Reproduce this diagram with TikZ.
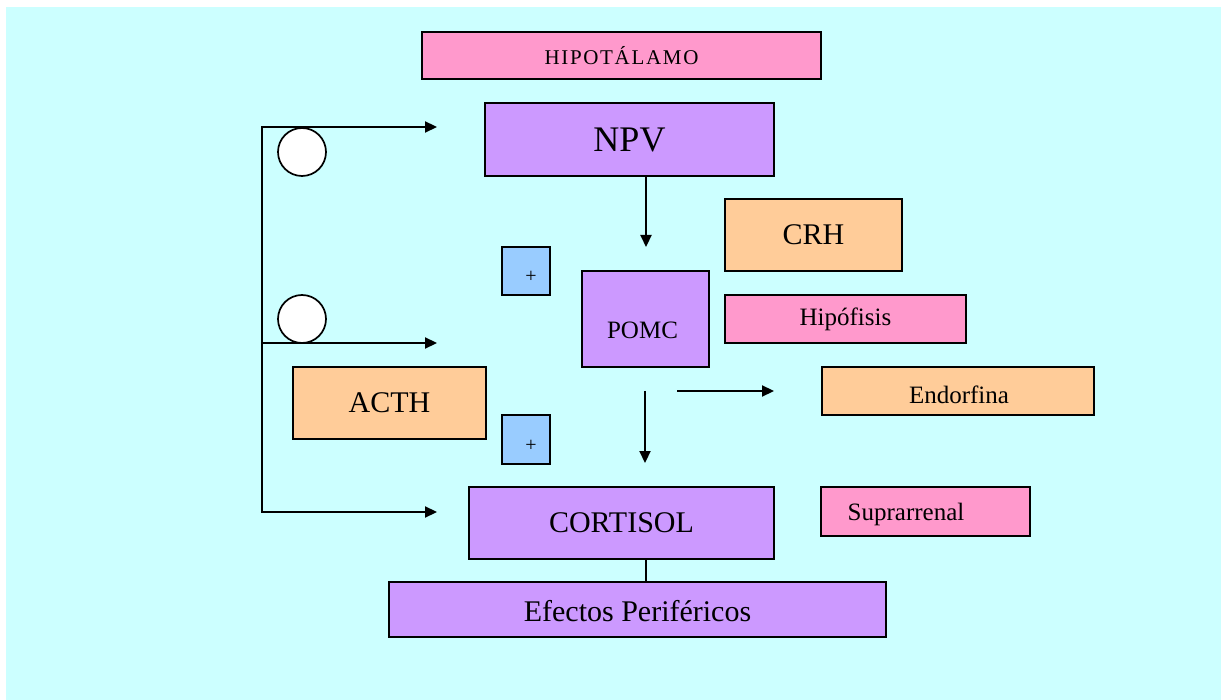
\documentclass[tikz,border=0pt]{standalone}
\usepackage{fontspec}
\setmainfont{Liberation Serif}
\usetikzlibrary{arrows.meta}
\definecolor{bgc}{HTML}{CCFFFF}
\definecolor{pinkc}{HTML}{FF99CC}
\definecolor{purp}{HTML}{CC99FF}
\definecolor{orng}{HTML}{FFCC99}
\definecolor{bluec}{HTML}{99CCFF}
\newcommand{\fsz}[1]{\fontsize{#1}{#1}\selectfont}
\begin{document}
\begin{tikzpicture}[x=1pt,y=-1pt,
  box/.style={draw=black, line width=1.8pt, inner sep=0pt, rectangle},
  conn/.style={line width=2.2pt, line cap=rect},
  arr/.style={line width=2.2pt, -{Triangle[length=12pt,width=11pt]}},
  circ/.style={circle, draw=black, line width=1.7pt, fill=white, minimum size=48pt, inner sep=0pt},
  lbl/.style={inner sep=0pt}]
\useasboundingbox (0,0) rectangle (1221,700);
\fill[bgc] (6,7) rectangle (1221,700);

% boxes
\node[box, fill=pinkc, minimum width=399pt, minimum height=47pt,
      font={\fsz{21}\addfontfeature{LetterSpace=8}}] (hipo) at (621.5,55.5) {HIPOTÁLAMO};
\node[box, fill=purp, minimum width=289pt, minimum height=73pt, font=\fsz{36}] (npv) at (629.5,139.5) {NPV};
\node[box, fill=orng, minimum width=177pt, minimum height=72pt, font=\fsz{30}] (crh) at (813.5,235) {CRH};
\node[box, fill=purp, minimum width=127pt, minimum height=96pt,
      label={[lbl, font=\fsz{25}, xshift=-3pt, yshift=-11pt]center:POMC}] (pomc) at (645.5,319) {};
\node[box, fill=pinkc, minimum width=241pt, minimum height=48pt, font=\fsz{25}] (hipof) at (845.5,319) {Hipófisis};
\node[box, fill=orng, minimum width=272pt, minimum height=48pt,
      label={[lbl, font=\fsz{25}, xshift=1pt, yshift=-4pt]center:Endorfina}] (endorf) at (958,391) {};
\node[box, fill=orng, minimum width=193pt, minimum height=72pt, font=\fsz{30}] (acth) at (389.5,403) {ACTH};
\node[box, fill=bluec, minimum width=48pt, minimum height=48pt,
      label={[lbl, font=\fsz{20}, xshift=5pt, yshift=-6pt]center:+}] (plusa) at (526,271) {};
\node[box, fill=bluec, minimum width=48pt, minimum height=49pt,
      label={[lbl, font=\fsz{20}, xshift=5pt, yshift=-6pt]center:+}] (plusb) at (526,439.5) {};
\node[box, fill=purp, minimum width=305pt, minimum height=72pt, font=\fsz{30}] (cort) at (621.5,523) {CORTISOL};
\node[box, fill=purp, minimum width=497pt, minimum height=55pt,
      label={[lbl, font=\fsz{30}, yshift=-2pt]center:Efectos Periféricos}] (efect) at (637.5,609.5) {};
\node[box, fill=pinkc, minimum width=209pt, minimum height=49pt,
      label={[lbl, font=\fsz{25}, xshift=-19.5pt, yshift=-3pt]center:Suprarrenal}] (supra) at (925.5,511.5) {};

% feedback lines
\coordinate (fbtop) at (262,127);
\coordinate (fbmid) at (262,343);
\coordinate (fbbot) at (262,512);
\coordinate (ea) at (437,127);
\coordinate (eb) at (437,343);
\coordinate (ec) at (437,512);
\draw[conn] (fbtop) -- (fbbot);
\draw[arr] (fbtop) -- (ea);
\draw[arr] (fbmid) -- (eb);
\draw[arr] (fbbot) -- (ec);
\node[circ] (c1) at (302,152) {};
\node[circ] (c2) at (302,319) {};

% central arrows
\coordinate (npvout) at (646,176);
\coordinate (pomcin) at (646,247);
\draw[arr] (npvout) -- (pomcin);
\coordinate (downs) at (645,391);
\coordinate (downe) at (645,463);
\draw[arr] (downs) -- (downe);
\coordinate (rs) at (677,391);
\coordinate (re) at (774,391);
\draw[arr] (rs) -- (re);
\coordinate (cortout) at (646,559);
\coordinate (efin) at (646,582);
\draw[line width=2.2pt] (cortout) -- (efin);
\end{tikzpicture}
\end{document}
